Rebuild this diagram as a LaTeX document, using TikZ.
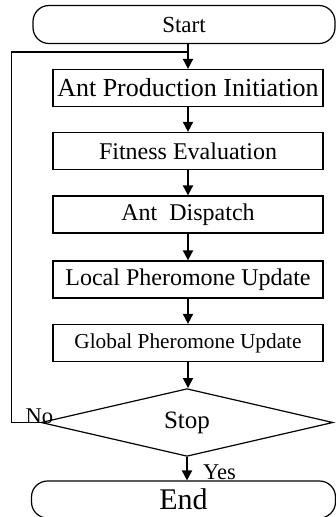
\documentclass[tikz,border=0pt]{standalone}
\usepackage{fontspec}
\setmainfont{Liberation Serif}
\usetikzlibrary{shapes.geometric,arrows.meta}

\begin{document}
\begin{tikzpicture}[x=1pt, y=-1pt,
    process/.style={draw, line width=1.2pt, minimum width=270pt, minimum height=37pt, inner sep=0pt},
    terminal/.style={draw, line width=1.2pt, rounded corners=16pt, minimum height=38pt, inner sep=0pt},
    decision/.style={draw, diamond, line width=1.2pt, minimum width=292pt, minimum height=63pt, inner sep=0pt},
    flow/.style={line width=1.8pt, -{Triangle[length=10pt, width=10pt]}},
    back/.style={line width=1.4pt},
    fs/.style={font=\fontsize{#1}{#1}\selectfont}]
    \useasboundingbox (0,0) rectangle (336,517);
    \node[terminal, minimum width=302pt, fs=23] (start) at (184,24.5) {Start};
    \node[process, fs=26] (init) at (188,88) {Ant Production Initiation};
    \node[process, fs=24] (fit) at (188,151) {Fitness Evaluation};
    \node[process, fs=24] (disp) at (188,214.5) {Ant\ \ Dispatch};
    \node[process, fs=24] (local) at (188,279.5) {Local Pheromone Update};
    \node[process, fs=21.3] (global) at (188,343) {Global Pheromone Update};
    \node[decision, fs=25] (stop) at (187,422.5) {Stop};
    \node[terminal, minimum width=304pt, minimum height=37pt, fs=30] (end) at (183.5,499.5) {End};
    \coordinate (merge) at (188,52);
    \draw[flow] (start.south -| init.north) -- (init);
    \draw[flow] (init) -- (fit);
    \draw[flow] (fit) -- (disp);
    \draw[flow] (disp) -- (local);
    \draw[flow] (local) -- (global);
    \draw[flow] (global.south) -- (global.south |- stop.north);
    \draw[flow] (stop.south) -- (stop.south |- end.north);
    \draw[back] (stop.west) -- ++(-29,0) |- (merge);
    \node[fs=22.5, anchor=base west, inner sep=0pt] (no) at ([xshift=-15pt,yshift=-0.5pt]stop.west) {No};
    \node[fs=22.5, anchor=base west, inner sep=0pt] (yes) at ([xshift=16pt,yshift=-23pt]stop.south) {Yes};
\end{tikzpicture}
\end{document}
